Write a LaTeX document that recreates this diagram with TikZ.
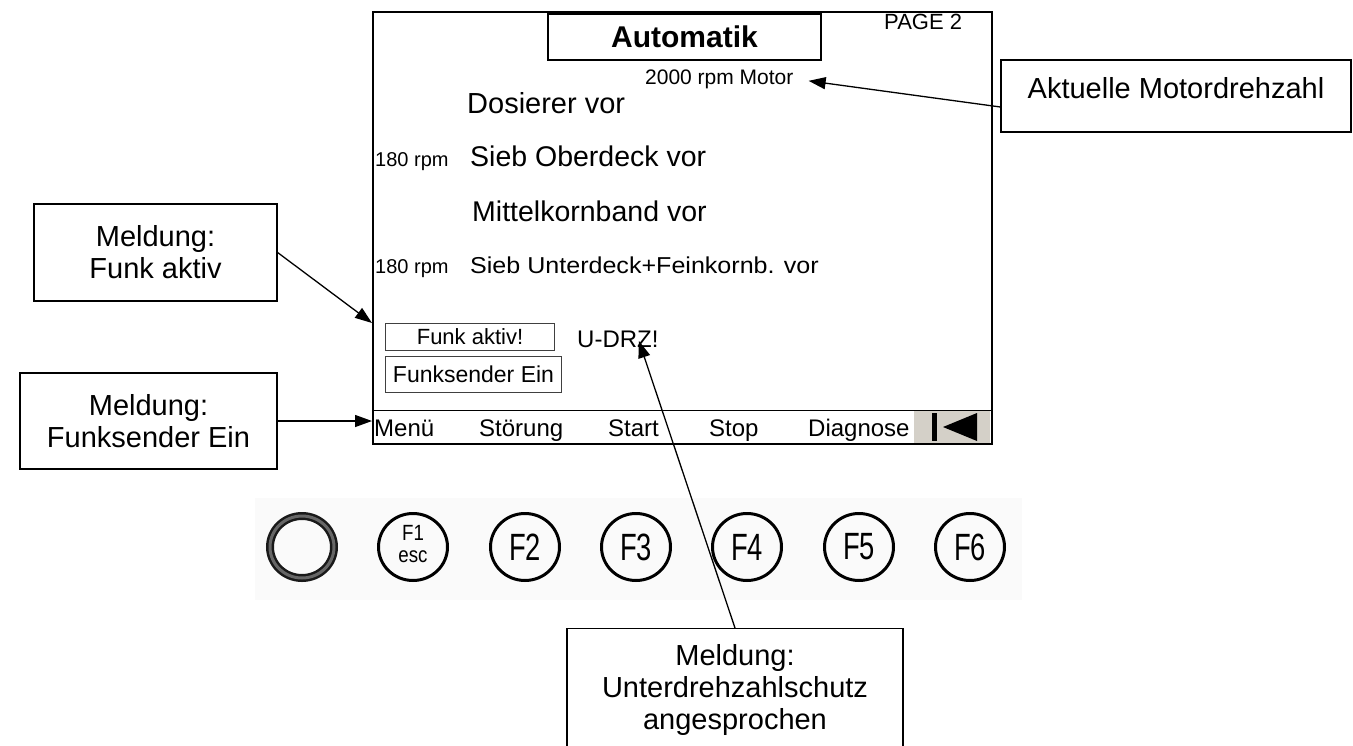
\documentclass[tikz,border=0pt]{standalone}
\usepackage{fontspec}
\setmainfont{Liberation Sans}
\usepackage{graphicx}
\usetikzlibrary{arrows.meta,shapes.geometric}
\definecolor{bargray}{RGB}{212,208,200}
\newcommand\btxt[1]{\scalebox{0.72}[1]{\fontsize{38}{38}\selectfont #1}}
\begin{document}
\begin{tikzpicture}[x=1pt,y=-1pt,
  fs/.style={font=\fontsize{#1}{#1}\selectfont},
  callout/.style={draw,line width=1.2pt,align=center,inner sep=0pt,font=\fontsize{29}{32}\selectfont},
  arr/.style={line width=1.3pt,-{Triangle[length=17pt,width=12pt]}},
  lt/.style={anchor=base west,inner sep=0pt},
  smallbox/.style={draw=black!75,line width=1pt,inner sep=0pt},
  btn/.style={ellipse,draw,line width=3pt,minimum width=69pt,minimum height=67pt,inner sep=0pt}]
\clip (0,0) rectangle (1353,745);
\fill[black!2] (255,498) rectangle (1022,600);

% screen
\node[draw,line width=2pt,minimum width=619pt,minimum height=432pt,anchor=north west,inner sep=0pt] (screen) at (372,11) {};
\node[draw,line width=1.2pt,minimum width=273pt,minimum height=46pt,inner sep=0pt,font=\bfseries\fontsize{30}{30}\selectfont] (title) at (684.5,37) {Automatik};
\node[lt,fs=22] (page) at (884,29) {PAGE 2};
\node[lt,fs=21] (motor) at (645,84) {2000 rpm Motor};
\node[lt,fs=29] (dos) at (467,113) {Dosierer vor};
\node[lt,fs=20] (rpma) at (375,166) {180 rpm};
\node[lt,fs=28.5] (sob) at (470,166) {Sieb Oberdeck vor};
\node[lt,fs=28.5] (mkb) at (472,221) {Mittelkornband vor};
\node[lt,fs=20] (rpmb) at (375,273) {180 rpm};
\node[lt] (sud) at (470,273) {\scalebox{1.09}[1]{\fontsize{23}{23}\selectfont Sieb Unterdeck+Feinkornb. vor}};
\node[smallbox,minimum width=169pt,minimum height=27pt,anchor=north west,fs=22] (fab) at (385,323) {Funk aktiv!};
\node[smallbox,minimum width=176pt,minimum height=36pt,anchor=north west,fs=23] (fsb) at (385,356) {Funksender Ein};
\node[lt,fs=24] (udrz) at (577,347) {U-DRZ!};

% function bar
\draw[line width=1pt] (screen.west |- 0,410) -- (screen.east |- 0,410);
\node[fill=bargray,minimum width=76pt,minimum height=32pt,inner sep=0pt,anchor=north west] (bargrey) at (914,410.5) {};
\fill (932,413) rectangle (937,441);
\fill (943,427) -- (977,413) -- (977,441) -- cycle;
\node[lt,fs=24] (menu) at (374,436) {Menü};
\node[lt,fs=24] (stoer) at (479,436) {Störung};
\node[lt,fs=24] (start) at (608,436) {Start};
\node[lt,fs=24] (stop) at (709,436) {Stop};
\node[lt,fs=24] (diag) at (808,436) {Diagnose};

% callouts
\node[callout,minimum width=350pt,minimum height=72pt,text depth=16pt] (akt) at (1176,96) {Aktuelle Motordrehzahl};
\node[callout,minimum width=243pt,minimum height=97pt] (fa) at (155.5,252.5) {Meldung:\\Funk aktiv};
\node[callout,minimum width=257pt,minimum height=96pt] (fse) at (148.5,421) {Meldung:\\Funksender Ein};
\node[callout,minimum width=336pt,minimum height=122pt,anchor=north] (ud) at (735,628) {Meldung:\\Unterdrehzahlschutz\\angesprochen};

\draw[arr] ([yshift=-11pt]akt.west) -- ([xshift=15pt,yshift=-2pt]motor.east);
\draw[arr] (fa.east) -- (screen.west |- fab.north);
\draw[arr] (fse.east) -- (fse.east -| screen.west);
\draw[arr] (ud.north) -- ([xshift=21pt,yshift=-2pt]udrz.center);

% keys
\node[btn,line width=2.5pt,double=black!60,double distance=3pt,draw=black!90,minimum width=64pt,minimum height=62pt] (k0) at (302,547) {};
\node[btn] (k1) at (413,547) {\scalebox{0.85}[1]{\fontsize{22}{22}\selectfont\begin{tabular}{@{}c@{}}F1\\esc\end{tabular}}};
\node[btn] (k2) at (525,547) {\btxt{F2}};
\node[btn] (k3) at (636,547) {\btxt{F3}};
\node[btn] (k4) at (747,547) {\btxt{F4}};
\node[btn] (k5) at (859,547) {\btxt{F5}};
\node[btn] (k6) at (970,547) {\btxt{F6}};
\end{tikzpicture}
\end{document}
